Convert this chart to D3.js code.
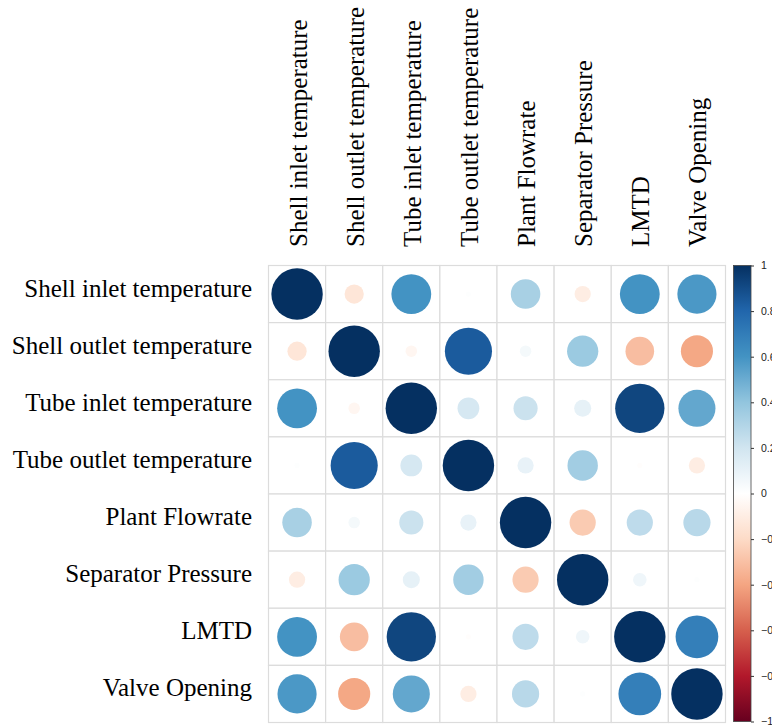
<!DOCTYPE html>
<html>
<head>
<meta charset="utf-8">
<script src="https://cdn.jsdelivr.net/npm/d3@7"></script>
<style>
  html, body { margin: 0; padding: 0; background: #fff; }
  svg { display: block; }
</style>
</head>
<body>
<svg id="chart" width="772" height="728"></svg>
<script>
// Variables of the heat-exchanger data set
const variables = [
  "Shell inlet temperature",
  "Shell outlet temperature",
  "Tube inlet temperature",
  "Tube outlet temperature",
  "Plant Flowrate",
  "Separator Pressure",
  "LMTD",
  "Valve Opening"
];

// Pearson correlation matrix, one row per variable
const rowShellInlet  = [ 1.00, -0.14,  0.60,  0.01,  0.33, -0.10,  0.60,  0.58];
const rowShellOutlet = [-0.14,  1.00, -0.05,  0.84,  0.05,  0.37, -0.31, -0.39];
const rowTubeInlet   = [ 0.60, -0.05,  1.00,  0.18,  0.22,  0.11,  0.92,  0.52];
const rowTubeOutlet  = [ 0.01,  0.84,  0.18,  1.00,  0.10,  0.35, -0.01, -0.10];
const rowFlowrate    = [ 0.33,  0.05,  0.22,  0.10,  1.00, -0.26,  0.26,  0.28];
const rowPressure    = [-0.10,  0.37,  0.11,  0.35, -0.26,  1.00,  0.07,  0.01];
const rowLMTD        = [ 0.60, -0.31,  0.92, -0.01,  0.26,  0.07,  1.00,  0.69];
const rowValve       = [ 0.58, -0.39,  0.52, -0.10,  0.28,  0.01,  0.69,  1.00];
const corrRows = [rowShellInlet, rowShellOutlet, rowTubeInlet, rowTubeOutlet,
                  rowFlowrate, rowPressure, rowLMTD, rowValve];

// Colour legend ticks
const legendTicks = [1, 0.8, 0.6, 0.4, 0.2, 0, -0.2, -0.4, -0.6, -0.8, -1];

// Diverging red-blue palette
const palette = ["#67001F", "#B2182B", "#D6604D", "#F4A582", "#FDDBC7", "#FFFFFF",
                 "#D1E5F0", "#92C5DE", "#4393C3", "#2166AC", "#053061"];

const svg = d3.select("#chart");

const grid = { left: 268.5, top: 265.5, size: 457 };
const x = d3.scaleBand().domain(variables).range([grid.left, grid.left + grid.size]);
const y = d3.scaleBand().domain(variables).range([grid.top, grid.top + grid.size]);
const color = d3.scaleLinear()
  .domain(d3.range(palette.length).map(i => -1 + 2 * i / (palette.length - 1)))
  .range(palette)
  .interpolate(d3.interpolateRgb);
const radius = d3.scaleSqrt().domain([0, 1]).range([0, 0.45 * x.bandwidth()]);

const cells = [];
corrRows.forEach((row, i) => row.forEach((v, j) => cells.push({ r: variables[i], c: variables[j], v })));

// Cell grid
const gGrid = svg.append("g");
gGrid.selectAll("rect").data(cells).join("rect")
  .attr("x", d => x(d.c))
  .attr("y", d => y(d.r))
  .attr("width", x.bandwidth())
  .attr("height", y.bandwidth())
  .attr("fill", "#fff")
  .attr("stroke", "#dcdcdc")
  .attr("stroke-width", 1.2);

// Circles: area proportional to |r|, colour by r
svg.append("g").selectAll("circle").data(cells).join("circle")
  .attr("cx", d => x(d.c) + x.bandwidth() / 2)
  .attr("cy", d => y(d.r) + y.bandwidth() / 2)
  .attr("r", d => radius(Math.abs(d.v)))
  .attr("fill", d => color(d.v));

const labelFont = "'Liberation Serif', 'Times New Roman', serif";

// Row labels
svg.append("g").selectAll("text").data(variables).join("text")
  .attr("x", 252)
  .attr("y", d => y(d) + y.bandwidth() / 2 - 6)
  .attr("text-anchor", "end")
  .attr("dominant-baseline", "central")
  .attr("font-family", labelFont)
  .attr("font-size", 25)
  .attr("fill", "#000")
  .text(d => d);

// Column labels, rotated
svg.append("g").selectAll("text").data(variables).join("text")
  .attr("transform", d => `translate(${x(d) + x.bandwidth() / 2 + 9.5},247) rotate(-90)`)
  .attr("text-anchor", "start")
  .attr("font-family", labelFont)
  .attr("font-size", 25)
  .attr("fill", "#000")
  .text(d => d);

// Colour legend
const bar = { x: 733.5, w: 17.5, top: 265.5, bottom: 721.5 };
const ly = d3.scaleLinear().domain([1, -1]).range([bar.top, bar.bottom]);
const defs = svg.append("defs");
const grad = defs.append("linearGradient")
  .attr("id", "corrGrad").attr("x1", 0).attr("y1", 0).attr("x2", 0).attr("y2", 1);
d3.range(0, 1.0001, 0.05).forEach(t => {
  grad.append("stop").attr("offset", t).attr("stop-color", color(1 - 2 * t));
});
svg.append("rect")
  .attr("x", bar.x).attr("y", bar.top)
  .attr("width", bar.w).attr("height", bar.bottom - bar.top)
  .attr("fill", "url(#corrGrad)")
  .attr("stroke", "#444").attr("stroke-width", 0.8);

const legendAxis = d3.axisRight(ly)
  .tickValues(legendTicks)
  .tickSize(3)
  .tickPadding(7)
  .tickFormat(d => d3.format("")(Math.round(d * 10) / 10));
const gAxis = svg.append("g")
  .attr("transform", `translate(${bar.x + bar.w},0)`)
  .call(legendAxis);
gAxis.select(".domain").remove();
gAxis.selectAll(".tick line").attr("stroke", "#333");
gAxis.selectAll(".tick text")
  .attr("font-family", "'Liberation Sans', Arial, sans-serif")
  .attr("font-size", 10.5)
  .attr("fill", "#222");
</script>
</body>
</html>
